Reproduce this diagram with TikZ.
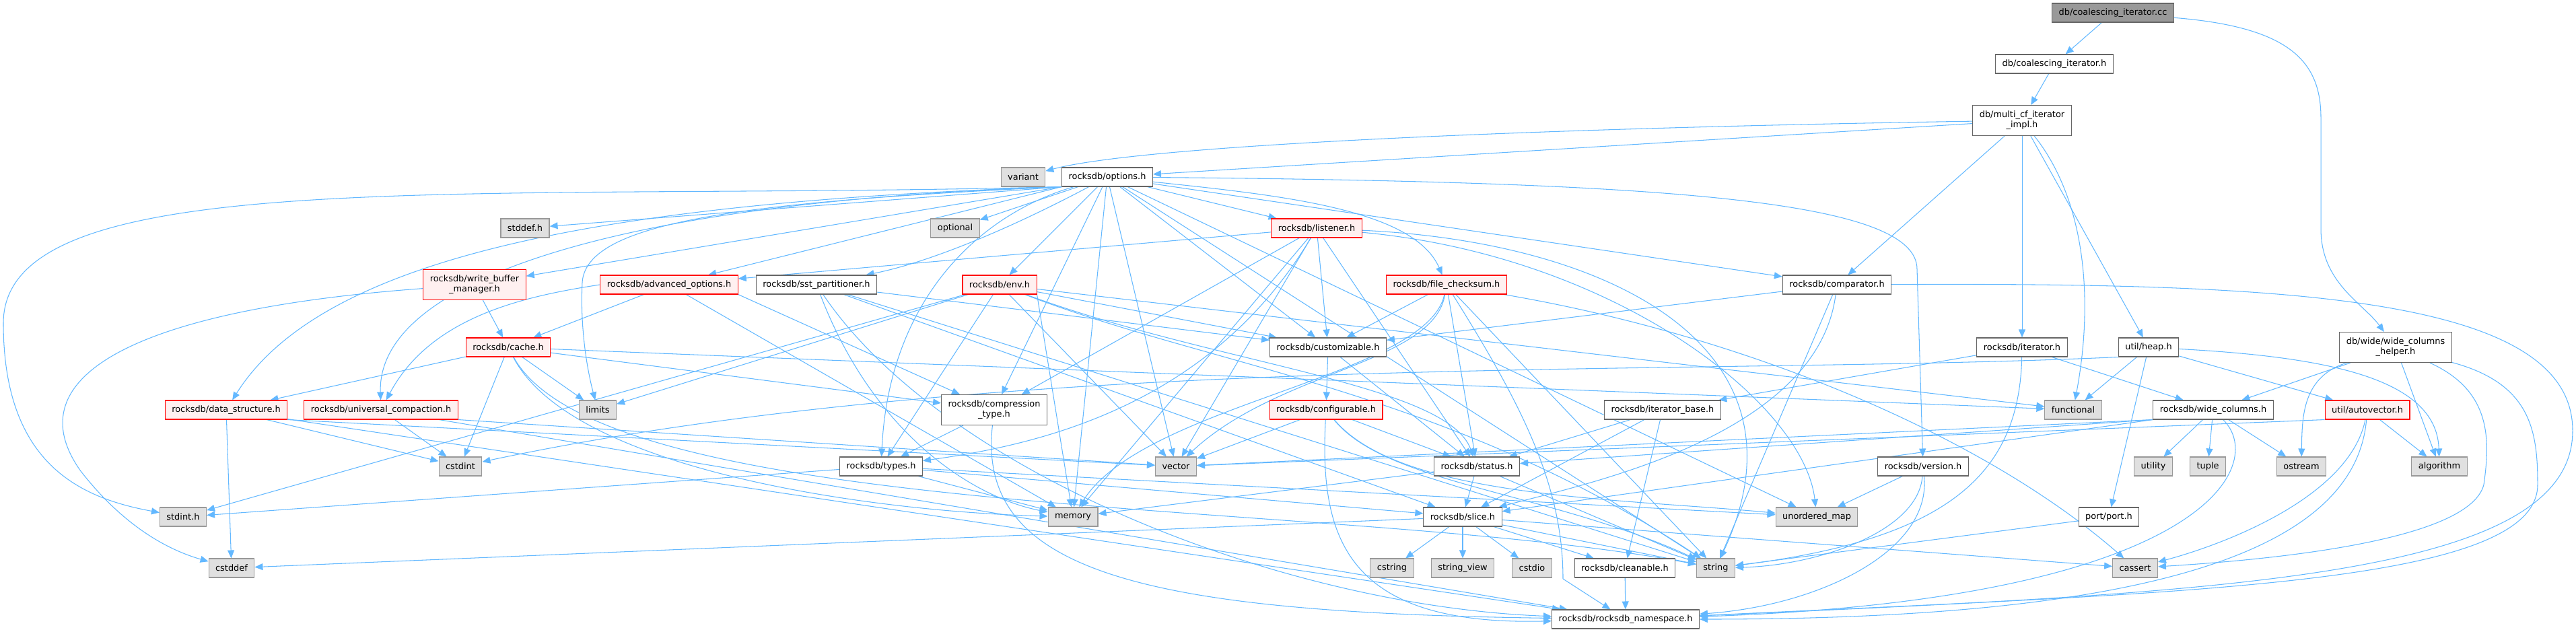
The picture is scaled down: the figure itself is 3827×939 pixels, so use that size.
\documentclass[tikz,border=0pt]{standalone}
\usepackage{fontspec}
\setmainfont{DejaVu Sans}
\usetikzlibrary{arrows.meta}
\definecolor{edgeStroke}{RGB}{99,184,255}
\definecolor{fileStroke}{RGB}{102,102,102}
\definecolor{sysFill}{RGB}{224,224,224}
\definecolor{sysStroke}{RGB}{153,153,153}
\definecolor{warnFill}{RGB}{255,240,240}
\definecolor{warnStroke}{RGB}{255,0,0}
\definecolor{rootFill}{RGB}{153,153,153}
\definecolor{rootStroke}{RGB}{102,102,102}
\pgfdeclarelayer{edges}
\pgfsetlayers{edges,main}
\tikzset{
  arrow/.style={-{Triangle[length=0.24cm,width=0.2cm]}, draw=edgeStroke, line width=0.6pt},
  filebox/.style={
    draw=fileStroke,
    fill=white,
    line width=0.6pt,
    minimum height=0.56cm,
    inner xsep=0.2cm,
    inner ysep=0.08cm,
    align=center,
    font=\fontsize{7.35}{8.5}\selectfont
  },
  sysbox/.style={filebox, draw=sysStroke, fill=sysFill},
  warnbox/.style={filebox, draw=warnStroke, fill=warnFill},
  rootbox/.style={filebox, draw=rootStroke, fill=rootFill},
  twoline/.style={minimum height=0.9cm}
}

\begin{document}
\begin{tikzpicture}[x=0.02cm,y=-0.02cm]
  \useasboundingbox (0,0) rectangle (3827,939);

  \node[rootbox] (cc) at (3139,19) {db/coalescing\_iterator.cc};
  \node[filebox] (coalh) at (3052,95) {db/coalescing\_iterator.h};
  \node[filebox, twoline] (multi) at (3004,179) {db/multi\_cf\_iterator\\\_impl.h};
  \node[sysbox] (variant) at (1520,263) {variant};
  \node[filebox] (options) at (1645,263) {rocksdb/options.h};
  \node[sysbox] (stddef) at (780,339) {stddef.h};
  \node[sysbox] (optional) at (1419,339) {optional};
  \node[warnbox] (listener) at (1956,339) {rocksdb/listener.h};
  \node[warnbox, twoline] (wbm) at (705,423) {rocksdb/write\_buffer\\\_manager.h};
  \node[warnbox] (advanced) at (994,423) {rocksdb/advanced\_options.h};
  \node[filebox] (sst) at (1213,423) {rocksdb/sst\_partitioner.h};
  \node[warnbox] (env) at (1485,423) {rocksdb/env.h};
  \node[warnbox] (filechk) at (2149,423) {rocksdb/file\_checksum.h};
  \node[filebox] (comparator) at (2729,423) {rocksdb/comparator.h};
  \node[warnbox] (cache) at (755,516) {rocksdb/cache.h};
  \node[filebox] (custom) at (1973,516) {rocksdb/customizable.h};
  \node[filebox] (iterator) at (3004,516) {rocksdb/iterator.h};
  \node[filebox] (heap) at (3192,516) {util/heap.h};
  \node[filebox, twoline] (wch) at (3559,516) {db/wide/wide\_columns\\\_helper.h};
  \node[warnbox] (datastruct) at (336,609) {rocksdb/data\_structure.h};
  \node[warnbox] (universal) at (566,609) {rocksdb/universal\_compaction.h};
  \node[sysbox] (limits) at (888,609) {limits};
  \node[filebox, twoline] (compression) at (1477,609) {rocksdb/compression\\\_type.h};
  \node[warnbox] (configurable) at (1970,609) {rocksdb/configurable.h};
  \node[filebox] (iterbase) at (2470,609) {rocksdb/iterator\_base.h};
  \node[sysbox] (functional) at (3080,609) {functional};
  \node[filebox] (widecols) at (3288,609) {rocksdb/wide\_columns.h};
  \node[warnbox] (autovector) at (3517,609) {util/autovector.h};
  \node[sysbox] (cstdint) at (684,693) {cstdint};
  \node[filebox] (types) at (1309,693) {rocksdb/types.h};
  \node[sysbox] (vector) at (1747,693) {vector};
  \node[filebox] (status) at (2194,693) {rocksdb/status.h};
  \node[filebox] (version) at (2857,693) {rocksdb/version.h};
  \node[sysbox] (utility) at (3199,693) {utility};
  \node[sysbox] (tuple) at (3280,693) {tuple};
  \node[sysbox] (ostream) at (3419,693) {ostream};
  \node[sysbox] (algorithm) at (3624,693) {algorithm};
  \node[sysbox] (stdint) at (272,768) {stdint.h};
  \node[sysbox] (memory) at (1594,768) {memory};
  \node[filebox] (slice) at (2173,768) {rocksdb/slice.h};
  \node[sysbox] (umap) at (2699,768) {unordered\_map};
  \node[filebox] (port) at (3133,768) {port/port.h};
  \node[sysbox] (cstddef) at (344,844) {cstddef};
  \node[sysbox] (cstring) at (2068,844) {cstring};
  \node[sysbox] (strview) at (2173,844) {string\_view};
  \node[sysbox] (cstdio) at (2276,844) {cstdio};
  \node[filebox] (cleanable) at (2414,844) {rocksdb/cleanable.h};
  \node[sysbox] (string) at (2549,844) {string};
  \node[sysbox] (cassert) at (3172,844) {cassert};
  \node[filebox] (namespace) at (2415,920) {rocksdb/rocksdb\_namespace.h};

  \begin{pgfonlayer}{edges}
  \draw[arrow] (cc) -- (coalh);
  \draw[arrow] (cc) .. controls (3400,40) and (3448,90) .. (3448,175) -- (3448,340) .. controls (3448,420) and (3510,450) .. (wch);
  \draw[arrow] (coalh) -- (multi);
  \draw[arrow] (multi) .. controls (2300,190) and (1700,215) .. (variant);
  \draw[arrow] (multi) -- (options);
  \draw[arrow] (multi) -- (comparator);
  \draw[arrow] (multi) -- (iterator);
  \draw[arrow] (multi) .. controls (3100,300) and (3110,450) .. (functional);
  \draw[arrow] (multi) -- (heap);

  \draw[arrow] (options.south west) -- (stddef);
  \draw[arrow] (options.south west) .. controls (700,300) and (5,240) .. (5,480) .. controls (5,690) and (120,740) .. (stdint);
  \draw[arrow] (options.south west) .. controls (1100,300) and (870,330) .. (865,420) .. controls (862,480) and (870,540) .. (limits);
  \draw[arrow] (options) -- (memory);
  \draw[arrow] (options) -- (optional);
  \draw[arrow] (options) -- (string);
  \draw[arrow] (options) -- (umap);
  \draw[arrow] (options) -- (vector);
  \draw[arrow] (options.south west) -- (advanced);
  \draw[arrow] (options) -- (comparator);
  \draw[arrow] (options) -- (compression);
  \draw[arrow] (options) -- (custom);
  \draw[arrow] (options.south west) .. controls (900,300) and (480,380) .. (datastruct);
  \draw[arrow] (options) -- (env);
  \draw[arrow] (options) .. controls (1900,290) and (2100,310) .. (filechk);
  \draw[arrow] (options) -- (listener);
  \draw[arrow] (options) .. controls (1500,340) and (1380,390) .. (sst);
  \draw[arrow] (options) .. controls (1450,320) and (1320,450) .. (types);
  \draw[arrow] (options.south west) .. controls (900,300) and (560,420) .. (universal);
  \draw[arrow] (options) .. controls (2500,270) and (2848,300) .. (2848,400) -- (version);
  \draw[arrow] (options.south west) -- (wbm);

  \draw[arrow] (wbm) -- (cache);
  \draw[arrow] (wbm) .. controls (200,460) and (20,560) .. (120,700) .. controls (190,790) and (260,820) .. (cstddef);

  \draw[arrow] (advanced) -- (cache);
  \draw[arrow] (advanced.south east) -- (compression);
  \draw[arrow] (advanced.west) .. controls (780,440) and (640,470) .. (universal);
  \draw[arrow] (advanced) -- (memory);

  \draw[arrow] (sst) -- (custom);
  \draw[arrow] (sst) .. controls (1300,650) and (1450,740) .. (memory);
  \draw[arrow] (sst) -- (string);
  \draw[arrow] (sst) .. controls (1400,700) and (1900,900) .. (namespace);
  \draw[arrow] (sst) -- (slice);

  \draw[arrow] (env) -- (stdint);
  \draw[arrow] (env) -- (functional);
  \draw[arrow] (env) -- (limits);
  \draw[arrow] (env.south east) -- (memory);
  \draw[arrow] (env) .. controls (1800,545) and (2150,580) .. (string);
  \draw[arrow] (env) -- (vector);
  \draw[arrow] (env) -- (custom);
  \draw[arrow] (env) .. controls (1800,540) and (2150,570) .. (status);
  \draw[arrow] (env) -- (types);

  \draw[arrow] (listener) -- (advanced);
  \draw[arrow] (listener) -- (compression);
  \draw[arrow] (listener) -- (custom);
  \draw[arrow] (listener) -- (status);
  \draw[arrow] (listener) .. controls (1800,600) and (1550,660) .. (types);
  \draw[arrow] (listener) -- (memory);
  \draw[arrow] (listener) .. controls (2400,360) and (2700,520) .. (string);
  \draw[arrow] (listener) .. controls (2400,380) and (2680,600) .. (umap);
  \draw[arrow] (listener) -- (vector);

  \draw[arrow] (filechk) .. controls (2600,500) and (2950,650) .. (cassert);
  \draw[arrow] (filechk) .. controls (2120,560) and (1700,600) .. (memory);
  \draw[arrow] (filechk) -- (string);
  \draw[arrow] (filechk) .. controls (2130,540) and (1900,550) .. (vector);
  \draw[arrow] (filechk) -- (custom);
  \draw[arrow] (filechk) .. controls (2260,600) and (2322,720) .. (2322,860) -- (namespace);
  \draw[arrow] (filechk) -- (status);

  \draw[arrow] (comparator) -- (string);
  \draw[arrow] (comparator) -- (custom);
  \draw[arrow] (comparator) .. controls (3400,420) and (3822,440) .. (3822,640) .. controls (3822,860) and (3300,880) .. (namespace);
  \draw[arrow] (comparator) .. controls (2700,650) and (2350,720) .. (slice);

  \draw[arrow] (cache) -- (cstdint);
  \draw[arrow] (cache) -- (functional);
  \draw[arrow] (cache) -- (limits);
  \draw[arrow] (cache) .. controls (850,700) and (1300,760) .. (memory);
  \draw[arrow] (cache) .. controls (900,780) and (2000,740) .. (string);
  \draw[arrow] (cache) -- (compression);
  \draw[arrow] (cache) -- (datastruct);

  \draw[arrow] (custom) -- (configurable);
  \draw[arrow] (custom) -- (status);

  \draw[arrow] (configurable) .. controls (2060,720) and (2300,730) .. (string);
  \draw[arrow] (configurable) .. controls (2080,740) and (2400,740) .. (umap);
  \draw[arrow] (configurable) -- (vector);
  \draw[arrow] (configurable) .. controls (1960,800) and (2000,930) .. (namespace);
  \draw[arrow] (configurable) -- (status);

  \draw[arrow] (iterator) -- (iterbase);
  \draw[arrow] (iterator) .. controls (3000,700) and (2900,800) .. (string);
  \draw[arrow] (iterator) -- (widecols);

  \draw[arrow] (heap) .. controls (3450,530) and (3620,560) .. (algorithm);
  \draw[arrow] (heap.south west) .. controls (2500,560) and (1500,520) .. (cstdint);
  \draw[arrow] (heap) -- (functional);
  \draw[arrow] (heap) -- (port);
  \draw[arrow] (heap) -- (autovector);

  \draw[arrow] (wch) -- (algorithm);
  \draw[arrow] (wch) .. controls (3700,580) and (3700,650) .. (3690,720) .. controls (3670,800) and (3400,830) .. (cassert);
  \draw[arrow] (wch) .. controls (3420,560) and (3420,620) .. (ostream);
  \draw[arrow] (wch) .. controls (3760,570) and (3770,640) .. (3770,720) .. controls (3770,870) and (3250,880) .. (namespace);
  \draw[arrow] (wch) -- (widecols);

  \draw[arrow] (datastruct) -- (cstddef);
  \draw[arrow] (datastruct) -- (cstdint);
  \draw[arrow] (datastruct.south east) -- (vector);
  \draw[arrow] (datastruct) -- (namespace);

  \draw[arrow] (universal) -- (cstdint);
  \draw[arrow] (universal.south east) -- (vector);
  \draw[arrow] (universal) -- (namespace);

  \draw[arrow] (compression) .. controls (1450,850) and (1700,910) .. (namespace);
  \draw[arrow] (compression) -- (types);

  \draw[arrow] (iterbase) -- (cleanable);
  \draw[arrow] (iterbase) -- (slice);
  \draw[arrow] (iterbase) -- (status);

  \draw[arrow] (widecols) -- (ostream);
  \draw[arrow] (widecols) -- (tuple);
  \draw[arrow] (widecols) -- (utility);
  \draw[arrow] (widecols.south west) -- (vector);
  \draw[arrow] (widecols) .. controls (3370,690) and (3280,890) .. (namespace);
  \draw[arrow] (widecols.south west) -- (slice);
  \draw[arrow] (widecols.south west) -- (status);

  \draw[arrow] (autovector) -- (algorithm);
  \draw[arrow] (autovector) .. controls (3490,740) and (3300,810) .. (cassert);
  \draw[arrow] (autovector.south west) -- (vector);
  \draw[arrow] (autovector) .. controls (3500,800) and (3250,920) .. (namespace);

  \draw[arrow] (types) -- (stdint);
  \draw[arrow] (types) -- (memory);
  \draw[arrow] (types) -- (umap);
  \draw[arrow] (types) -- (slice);

  \draw[arrow] (status) -- (memory);
  \draw[arrow] (status) -- (string);
  \draw[arrow] (status) -- (slice);

  \draw[arrow] (version) .. controls (2850,790) and (2700,840) .. (string);
  \draw[arrow] (version) -- (umap);
  \draw[arrow] (version) .. controls (2870,820) and (2700,900) .. (namespace);

  \draw[arrow] (slice) -- (cassert);
  \draw[arrow] (slice) -- (cstddef);
  \draw[arrow] (slice) -- (cstdio);
  \draw[arrow] (slice) -- (cstring);
  \draw[arrow] (slice) -- (string);
  \draw[arrow] (slice) -- (strview);
  \draw[arrow] (slice) -- (cleanable);

  \draw[arrow] (cleanable) -- (namespace);
  \draw[arrow] (port) -- (string);
  \end{pgfonlayer}
\end{tikzpicture}
\end{document}
